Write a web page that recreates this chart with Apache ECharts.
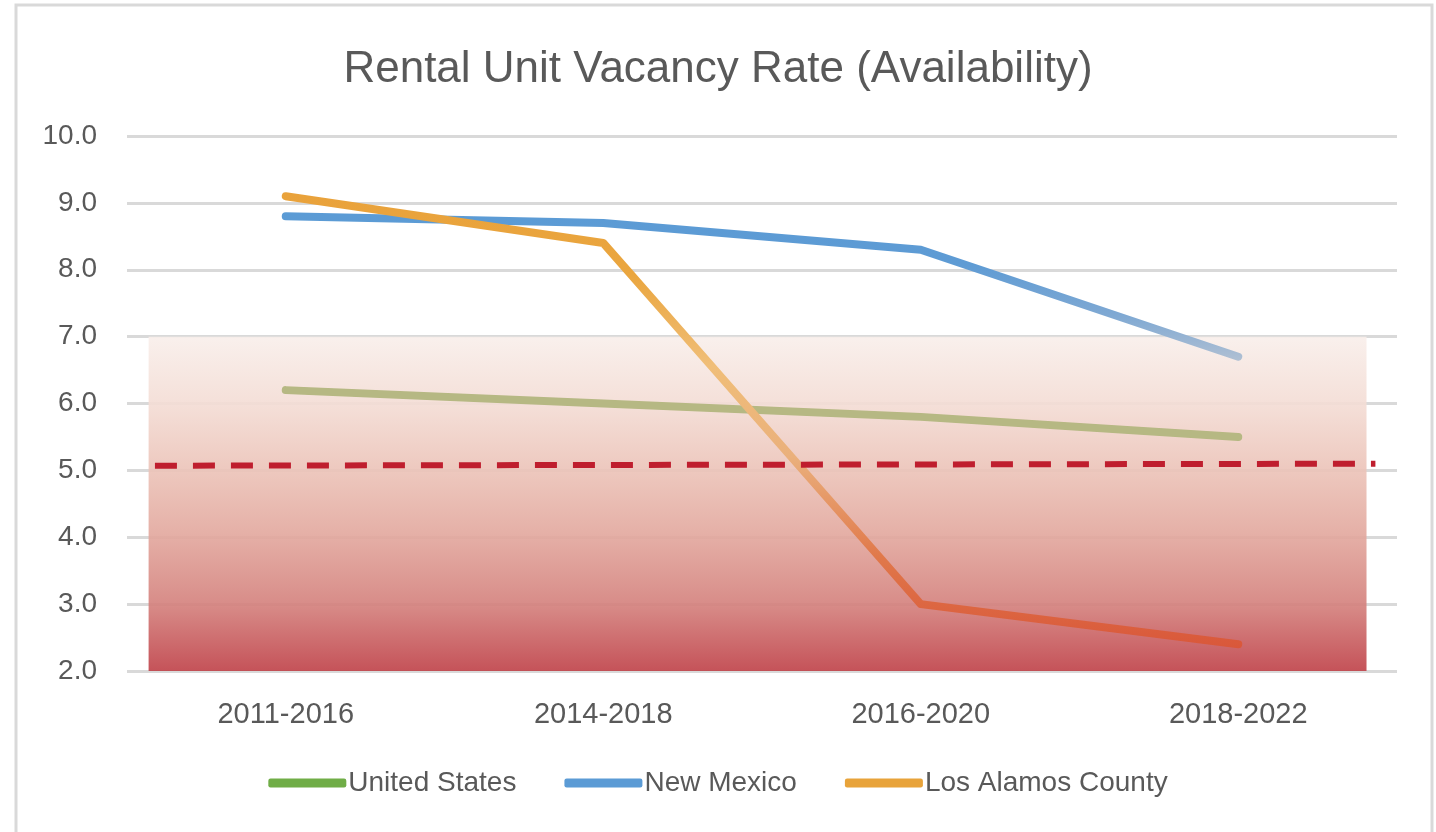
<!DOCTYPE html>
<html>
<head>
<meta charset="utf-8">
<script src="https://cdn.jsdelivr.net/npm/echarts@6/dist/echarts.min.js"></script>
<style>
  html, body { margin: 0; padding: 0; background: #fff; }
  #chart { width: 1436px; height: 832px; }
</style>
</head>
<body>
<div id="chart"></div>
<script>
// periods on the x axis
const periods = ['2011-2016', '2014-2018', '2016-2020', '2018-2022']
const seriesNames = ['United States', 'New Mexico', 'Los Alamos County']
const unitedStates = [6.2, 6.0, 5.8, 5.5]
const newMexico = [8.8, 8.7, 8.3, 6.7]
const losAlamos = [9.1, 8.4, 3.0, 2.4]
// shaded "low availability" band, on a hidden 0-100 x scale
const lowBand = [[1.7, 7.0], [97.6, 7.0]]
// dashed healthy-vacancy threshold, same hidden scale
const threshold = [[2.2, 5.07], [98.3, 5.1]]

const chart = echarts.init(document.getElementById('chart'))
const grad = (stops) => new echarts.graphic.LinearGradient(0, 0, 0, 1,
  stops.map(s => ({ offset: s[0], color: s[1] })))
const font = '"Liberation Sans", Arial, sans-serif'

chart.setOption({
  animation: false,
  title: {
    text: 'Rental Unit Vacancy Rate (Availability)',
    left: 'center',
    top: 43,
    textStyle: { fontFamily: font, fontSize: 44, fontWeight: 'normal', color: '#595959' }
  },
  legend: {
    data: [
      { name: seriesNames[0], itemStyle: { color: '#70ad47' } },
      { name: seriesNames[1], itemStyle: { color: '#5b9bd5' } },
      { name: seriesNames[2], itemStyle: { color: '#e8a33a' } }
    ],
    bottom: 30,
    left: 'center',
    icon: 'roundRect',
    itemWidth: 78,
    itemHeight: 9,
    itemGap: 48,
    textStyle: { fontFamily: font, fontSize: 28, color: '#595959', padding: [0, 0, 0, -3] }
  },
  graphic: [{
    type: 'rect',
    shape: { x: 16, y: 5, width: 1416, height: 840 },
    style: { fill: 'none', stroke: '#d9d9d9', lineWidth: 3 },
    silent: true
  }],
  grid: { left: 127, right: 39, top: 136, bottom: 161 },
  xAxis: [{
    type: 'category',
    data: periods,
    axisLine: { show: false },
    axisTick: { show: false },
    axisLabel: { margin: 29, fontFamily: font, fontSize: 29, color: '#595959' }
  }, {
    type: 'value',
    min: 0,
    max: 100,
    show: false
  }],
  yAxis: {
    type: 'value',
    min: 2,
    max: 10,
    interval: 1,
    axisLine: { show: false },
    axisTick: { show: false },
    splitLine: { lineStyle: { color: '#d9d9d9', width: 3 } },
    axisLabel: {
      margin: 30,
      fontFamily: font,
      fontSize: 28,
      color: '#595959',
      formatter: v => v.toFixed(1)
    }
  },
  series: [{
    name: 'band',
    type: 'line',
    xAxisIndex: 1,
    data: lowBand,
    symbol: 'none',
    silent: true,
    z: 1,
    lineStyle: { width: 0 },
    areaStyle: {
      origin: 'start',
      opacity: 0.9,
      color: grad([
        [0, '#f9efeb'],
        [0.2, '#f4ddd5'],
        [0.4, '#ecc3b8'],
        [0.6, '#e2a69c'],
        [0.8, '#d4807c'],
        [1, '#bf4047']
      ])
    }
  }, {
    name: seriesNames[0],
    type: 'line',
    data: unitedStates,
    symbol: 'none',
    z: 3,
    lineStyle: { width: 8, cap: 'round', join: 'round', color: '#b6b883' },
    itemStyle: { color: '#70ad47' }
  }, {
    name: seriesNames[1],
    type: 'line',
    data: newMexico,
    symbol: 'none',
    z: 3,
    lineStyle: {
      width: 8, cap: 'round', join: 'round',
      color: grad([[0, '#5b9bd5'], [0.35, '#5e9bd4'], [0.7, '#80a9d3'], [1, '#b0c0d3']])
    },
    itemStyle: { color: '#5b9bd5' }
  }, {
    name: seriesNames[2],
    type: 'line',
    data: losAlamos,
    symbol: 'none',
    z: 3,
    lineStyle: {
      width: 8, cap: 'round', join: 'round',
      color: grad([
        [0, '#e9a23b'],
        [0.18, '#eaa63f'],
        [0.38, '#f0be78'],
        [0.58, '#eab07c'],
        [0.8, '#e0784a'],
        [1, '#d9573a']
      ])
    },
    itemStyle: { color: '#e8a33a' }
  }, {
    name: 'threshold',
    type: 'line',
    xAxisIndex: 1,
    data: threshold,
    symbol: 'none',
    silent: true,
    z: 4,
    lineStyle: { width: 6, type: [22, 16], color: '#bf1e2e' }
  }]
})
</script>
</body>
</html>
